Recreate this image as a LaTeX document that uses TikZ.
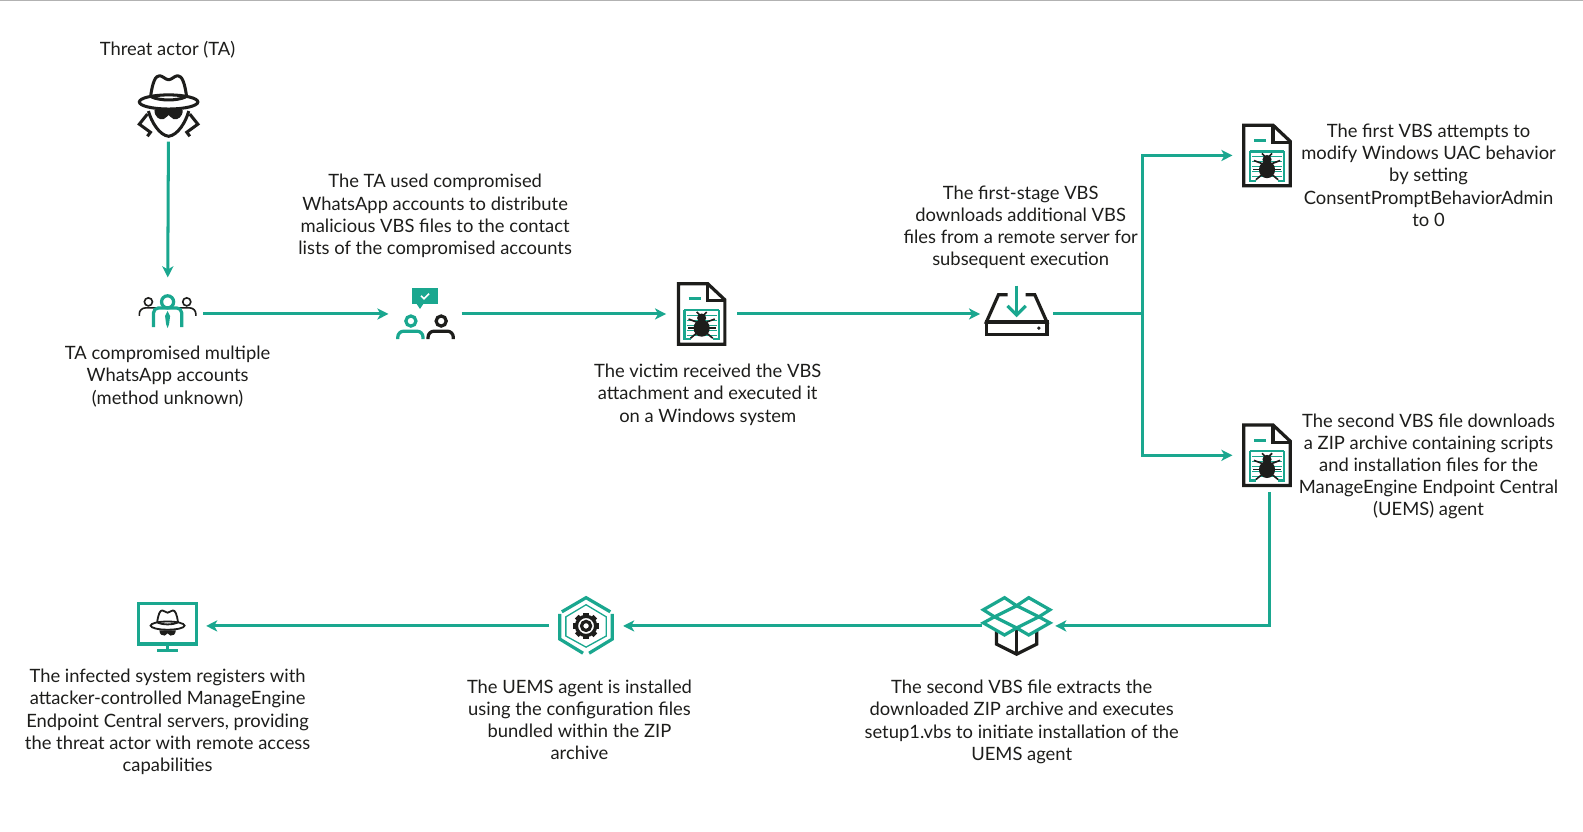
\documentclass[tikz,border=0pt]{standalone}
\usepackage{fontspec}
\setmainfont{Lato}
\usetikzlibrary{arrows.meta}

\definecolor{kteal}{HTML}{1AA78F}
\definecolor{kink}{HTML}{1D1D1B}

\tikzset{
	flow/.style={draw=kteal,line width=3pt,-{Stealth[length=11pt,width=11pt,inset=3pt]}},
	trunk/.style={draw=kteal,line width=3pt},
	caption/.style={align=center,text=kink,inner sep=0pt,font=\fontsize{18.2}{22}\selectfont},
	iconbox/.style={inner sep=0pt,minimum width=#1,minimum height=72pt},
	inkline/.style={draw=kink,line width=3.2pt},
	tealline/.style={draw=kteal,line width=3.2pt},
	spyline/.style={line width=3pt},
	spyhat/.pic={
		\draw[draw=kink,spyline,line join=round,fill=white] (-18,-8) .. controls (-16,-24) and (-13,-30) .. (-9,-30) .. controls (-6,-30) and (-3,-26) .. (0,-26) .. controls (3,-26) and (6,-30) .. (9,-30) .. controls (13,-30) and (16,-24) .. (18,-8);
		\draw[draw=kink,spyline,fill=white] (0,-4) ellipse (29 and 7);
		\draw[draw=kink,spyline] (-17,-9) .. controls (-8,-5) and (8,-5) .. (17,-9);
		\fill[kink] (-14,4) -- (14,4) .. controls (14,11) and (9,14) .. (5,13) .. controls (2,12) and (1,9) .. (0,9) .. controls (-1,9) and (-2,12) .. (-5,13) .. controls (-9,14) and (-14,11) .. (-14,4) -- cycle;
	},
	spy/.pic={
		\pic at (0,0) {spyhat};
		\draw[draw=kink,spyline,line join=round] (-20,5) .. controls (-17,16) and (-9,29) .. (0,30) .. controls (9,29) and (17,16) .. (20,5);
		\draw[draw=kink,spyline,line join=miter] (-21,8) -- (-29,18) -- (-18,26) -- (-21,30);
		\draw[draw=kink,spyline,line join=miter] (21,8) -- (29,18) -- (18,26) -- (21,30);
	},
	crew/.pic={
		\draw[draw=kink,line width=1.6pt] (-19,-12) circle (4);
		\draw[draw=kink,line width=1.6pt] (19,-12) circle (4);
		\draw[draw=kink,line width=1.6pt] (-28,2) -- (-28,0) arc (180:270:6) -- (-11,-6);
		\draw[draw=kink,line width=1.6pt] (28,2) -- (28,0) arc (360:270:6) -- (11,-6);
		\draw[tealline] (0,-12) circle (6);
		\draw[tealline] (-14,13) -- (-14,-1) arc (180:270:5) -- (9,-6) arc (270:360:5) -- (14,13);
		\fill[kteal] (0,-3) -- (2.5,2) -- (1.5,10) -- (0,14) -- (-1.5,10) -- (-2.5,2) -- cycle;
	},
	chat/.pic={
		\fill[kteal] (-13,-26) rectangle (13,-10);
		\fill[kteal] (-9,-11) -- (-5,-5) -- (-1,-11) -- cycle;
		\draw[white,line width=1.6pt] (-4,-18) -- (-1,-15) -- (4,-20);
		\draw[tealline] (-14,7) circle (5);
		\draw[tealline] (-27,25) -- (-27,23) arc (180:270:6) -- (-8,17) arc (270:360:6) -- (-2,25);
		\draw[inkline] (16,7) circle (5);
		\draw[inkline] (3,25) -- (3,23) arc (180:270:6) -- (22,17) arc (270:360:6) -- (28,25);
	},
	bugfile/.pic={
		\foreach \y in {1,6,11,16,21} \draw[kteal,line width=.5pt] (-15,\y) -- (15,\y);
		\draw[draw=kteal,line width=2.2pt] (-17,-4) -- (17,-4);
		\draw[draw=kteal,line width=2.2pt] (-11,25) -- (-17,25) -- (-17,-4);
		\draw[draw=kteal,line width=2.2pt] (11,25) -- (17,25) -- (17,-4);
		\draw[tealline] (-13,-15) -- (-1,-15);
		\fill[kink] (0,14) ellipse (8 and 8.5);
		\fill[kink] (0,4) circle (4.5);
		\foreach \s in {-1,1} {
			\draw[draw=kink,line width=1.6pt] (0,3) -- (\s*5,-2);
			\draw[draw=kink,line width=1.6pt] (\s*5,8) -- (\s*13,5);
			\draw[draw=kink,line width=1.6pt] (\s*6,14) -- (\s*14,14);
			\draw[draw=kink,line width=1.6pt] (\s*5,19) -- (\s*11,24);
		}
		\draw[inkline,line join=miter] (-23,-30) -- (6,-30) -- (23,-14) -- (23,30) -- (-23,30) -- cycle;
		\draw[inkline,line join=miter] (6,-30) -- (6,-13) -- (23,-13);
	},
	drive/.pic={
		\draw[inkline,line join=miter] (-9,-19) -- (-18,-19) -- (-30,8) -- (30,8) -- (18,-19) -- (9,-19);
		\draw[inkline,line join=miter] (-30,8) rectangle (30,20);
		\fill[kink] (22,14) circle (1.8);
		\draw[tealline] (0,-28) -- (0,0);
		\draw[tealline] (-9,-8) -- (0,1) -- (9,-8);
	},
	openbox/.pic={
		\draw[inkline,line join=miter] (-20,-2) -- (-20,18) -- (0,28) -- (20,18) -- (20,-2);
		\draw[inkline] (0,2) -- (0,28);
		\draw[tealline,fill=white,line join=miter] (-22,-9) -- (-33,-3) -- (-12,9) -- (0,2) -- cycle;
		\draw[tealline,fill=white,line join=miter] (22,-9) -- (33,-3) -- (12,9) -- (0,2) -- cycle;
		\draw[tealline,line join=miter] (-22,-9) -- (-33,-16) -- (-12,-28) -- (0,-20) -- cycle;
		\draw[tealline,line join=miter] (22,-9) -- (33,-16) -- (12,-28) -- (0,-20) -- cycle;
	},
	hexgear/.pic={
		\draw[tealline,line join=miter] (-24,-14) -- (0,-28) -- (24,-14);
		\draw[tealline,line join=miter] (-26,-12) -- (-26,13) -- (-3,27);
		\draw[tealline,line join=miter] (26,-12) -- (26,13) -- (3,27);
		\draw[draw=kteal,line width=1.3pt] (0,-21) -- (20,-9) -- (20,10) -- (0,21) -- (-20,10) -- (-20,-9) -- cycle;
		\foreach \a in {0,45,...,315} \fill[kink,rotate=\a] (-2.6,-13) rectangle (2.6,-8);
		\draw[inkline] (0,0) circle (9.5);
		\draw[inkline] (0,0) circle (4.5);
	},
	screen/.pic={
		\draw[tealline,line join=miter] (-29,-22) rectangle (29,18);
		\draw[tealline] (0,18) -- (0,24);
		\draw[tealline] (-10,24) -- (10,24);
		\pic[scale=.58,spyline/.style={line width=1.8pt}] at (0,2) {spyhat};
	},
}

\begin{document}
\begin{tikzpicture}[x=1pt,y=-1pt]
	\useasboundingbox (0,0) rectangle (1568,824);
	\fill[black!30] (0,0) rectangle (1568,1);

	% icons, the boxes keep the connectors clear of them
	\node[iconbox=70pt,minimum height=70pt] (actor) at (167,105) {};
	\node[iconbox=70pt] (crewbox) at (166,311) {};
	\node[iconbox=72pt] (chatbox) at (421,311) {};
	\node[iconbox=70pt] (bugA) at (695,311) {};
	\node[iconbox=72pt] (drivebox) at (1007,311) {};
	\node[iconbox=68pt] (bugB) at (1255,154) {};
	\node[iconbox=68pt] (bugC) at (1255,451) {};
	\node[iconbox=72pt] (boxbox) at (1009,620) {};
	\node[iconbox=73pt] (gearbox) at (580.5,620) {};
	\node[iconbox=76pt] (screenbox) at (166,620) {};
	\coordinate (split) at (1132,311);

	\pic at (actor) {spy};
	\pic at (crewbox) {crew};
	\pic at (chatbox) {chat};
	\pic at (bugA) {bugfile};
	\pic at (drivebox) {drive};
	\pic at (bugB) {bugfile};
	\pic at (bugC) {bugfile};
	\pic at (1007,620) {openbox};
	\pic at (gearbox) {hexgear};
	\pic at (screenbox) {screen};

	% connectors
	\draw[flow] (actor) to (crewbox);
	\draw[flow] (crewbox) to (chatbox);
	\draw[flow] (chatbox) to (bugA);
	\draw[flow] (bugA) to (drivebox);
	\draw[trunk] (drivebox) to (split);
	\draw[flow] (split) |- (bugB);
	\draw[flow] (split) |- (bugC);
	\draw[flow] ([xshift=2pt]bugC.south) |- (boxbox);
	\draw[flow] (boxbox) to (gearbox);
	\draw[flow] (gearbox) to (screenbox);

	% captions
	\node[caption] (actortext) at (166,49) {Threat actor (TA)};
	\node[caption] (crewtext) at (166,373) {TA compromised multiple\\WhatsApp accounts\\(method unknown)};
	\node[caption] (chattext) at (431,214) {The TA used compromised\\WhatsApp accounts to distribute\\malicious VBS files to the contact\\lists of the compromised accounts};
	\node[caption] (bugAtext) at (701,391) {The victim received the VBS\\attachment and executed it\\on a Windows system};
	\node[caption] (drivetext) at (1011,225) {The first-stage VBS\\downloads additional VBS\\files from a remote server for\\subsequent execution};
	\node[caption] (bugBtext) at (1415,173.5) {The first VBS attempts to\\modify Windows UAC behavior\\by setting\\ConsentPromptBehaviorAdmin\\to 0};
	\node[caption] (bugCtext) at (1415,462) {The second VBS file downloads\\a ZIP archive containing scripts\\and installation files for the\\ManageEngine Endpoint Central\\(UEMS) agent};
	\node[caption] (boxtext) at (1012,715) {The second VBS file extracts the\\downloaded ZIP archive and executes\\setup1.vbs to initiate installation of the\\UEMS agent};
	\node[caption] (geartext) at (574,713) {The UEMS agent is installed\\using the configuration files\\bundled within the ZIP\\archive};
	\node[caption] (screentext) at (166,715) {The infected system registers with\\attacker-controlled ManageEngine\\Endpoint Central servers, providing\\the threat actor with remote access\\capabilities};
\end{tikzpicture}
\end{document}
